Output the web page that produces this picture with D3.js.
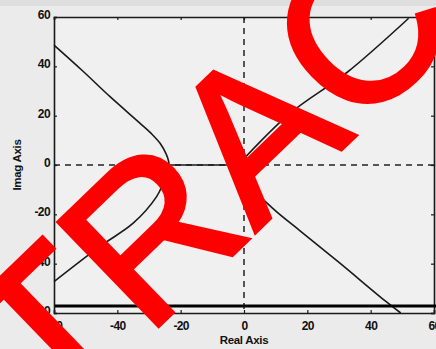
<!DOCTYPE html>
<html>
<head>
<meta charset="utf-8">
<script src="https://cdn.jsdelivr.net/npm/d3@7"></script>
<style>
  html, body { margin: 0; padding: 0; background: #ebebeb; }
  svg { display: block; }
  text { font-family: "Liberation Sans", Arial, sans-serif; }
</style>
</head>
<body>
<svg id="chart" width="436" height="349"></svg>
<script>
// Axis ticks
const xTicks = [-60, -40, -20, 0, 20, 40, 60];
const yTicks = [-60, -40, -20, 0, 20, 40, 60];

// Root-locus branches, [real, imag]
const leftBranch = [
  [-60, 48.6], [-51, 38.2], [-42.3, 27.7], [-32.8, 16.9], [-29.3, 12.8], [-26.5, 8.8],
  [-24.6, 4.5], [-23.8, 1.5], [-23.7, 0], [-24, -2.5], [-25.4, -7], [-27.6, -12.8], [-35, -23.6],
  [-45.5, -33], [-60, -47.3]
];
const upperBranch = [[-1.5, 0.5], [14.5, 20.9], [32.5, 37.5], [52, 59.5]];
const lowerBranch = [[-1.5, 0], [1, -7], [9, -17.5], [18, -27], [30, -39.5], [44.5, -55], [49.5, -60]];
const realSegment = [[-30, 0], [-1.5, 0]];
const poles = [[-30, 0]];

const svg = d3.select("#chart");
const W = 436, H = 349;

// top strip of the page
svg.append("rect").attr("x", 0).attr("y", 0).attr("width", W).attr("height", 6).attr("fill", "#dedede");

const x = d3.scaleLinear().domain([-60, 60]).range([54, 434]);
const y = d3.scaleLinear().domain([-60, 60]).range([313, 17]);

// plot area
svg.append("rect")
  .attr("x", x(-60)).attr("y", y(60))
  .attr("width", x(60) - x(-60)).attr("height", y(-60) - y(60))
  .attr("fill", "#f0f0f0");

// zero lines
const dash = "6,5";
svg.append("line")
  .attr("x1", x(-60)).attr("x2", x(60)).attr("y1", y(0)).attr("y2", y(0))
  .attr("stroke", "#222").attr("stroke-width", 1.5).attr("stroke-dasharray", dash);
svg.append("line")
  .attr("x1", x(0)).attr("x2", x(0)).attr("y1", y(60)).attr("y2", y(-60))
  .attr("stroke", "#222").attr("stroke-width", 1.5).attr("stroke-dasharray", dash);

// frame axes with inward ticks; plain hyphen for negatives
const fmt = d => String(d);
const gB = svg.append("g").attr("transform", `translate(0,${y(-60)})`)
  .call(d3.axisBottom(x).tickValues(xTicks).tickSize(-3).tickPadding(8).tickFormat(fmt));
const gL = svg.append("g").attr("transform", `translate(${x(-60)},0)`)
  .call(d3.axisLeft(y).tickValues(yTicks).tickSize(-3).tickPadding(4).tickFormat(fmt));
const gT = svg.append("g").attr("transform", `translate(0,${y(60)})`)
  .call(d3.axisTop(x).tickValues(xTicks).tickSize(-3).tickFormat(""));
const gR = svg.append("g").attr("transform", `translate(${x(60)},0)`)
  .call(d3.axisRight(y).tickValues(yTicks).tickSize(-3).tickFormat(""));

[gB, gL, gT, gR].forEach(g => {
  g.select(".domain").attr("stroke", "#1a1a1a").attr("stroke-width", 1.6);
  g.selectAll(".tick line").attr("stroke", "#1a1a1a").attr("stroke-width", 1.2);
  g.selectAll("text")
    .attr("fill", "#111")
    .style("font-family", "'Liberation Sans', Arial, sans-serif")
    .style("font-size", "12px")
    .style("font-weight", "bold")
    .style("letter-spacing", "-0.6px");
});
gL.selectAll("text").attr("dy", "0.12em");

// axis titles
svg.append("text").attr("x", x(0)).attr("y", 344)
  .attr("text-anchor", "middle").attr("font-size", 11.5).attr("font-weight", "bold")
  .attr("fill", "#111").attr("letter-spacing", "-0.3").text("Real Axis");
svg.append("text").attr("transform", `translate(21,${y(0)}) rotate(-90)`)
  .attr("text-anchor", "middle").attr("font-size", 11.5).attr("font-weight", "bold")
  .attr("fill", "#111").attr("letter-spacing", "-0.3").text("Imag Axis");

// locus curves
const lineSmooth = d3.line().x(d => x(d[0])).y(d => y(d[1])).curve(d3.curveCatmullRom.alpha(0.5));
const lineStraight = d3.line().x(d => x(d[0])).y(d => y(d[1]));
const locus = svg.append("g").attr("fill", "none").attr("stroke", "#1a1a1a").attr("stroke-width", 1.6);
locus.append("path").attr("d", lineSmooth(leftBranch));
locus.append("path").attr("d", lineSmooth(upperBranch));
locus.append("path").attr("d", lineSmooth(lowerBranch));
locus.append("path").attr("d", lineStraight(realSegment));

// pole markers
svg.selectAll(".pole").data(poles).join("path")
  .attr("class", "pole")
  .attr("transform", d => `translate(${x(d[0])},${y(d[1])})`)
  .attr("d", "M-3,-3L3,3M-3,3L3,-3")
  .attr("stroke", "#111").attr("stroke-width", 1.4);

// heavy rule across the lower part
svg.append("line").attr("x1", 55).attr("x2", W).attr("y1", 306).attr("y2", 306)
  .attr("stroke", "#000").attr("stroke-width", 3.2);

// large red lettering
svg.append("text")
  .attr("transform", "translate(54,427) rotate(-44)")
  .attr("font-size", 210)
  .attr("fill", "#ff0000")
  .attr("stroke", "#ff0000")
  .attr("stroke-width", 4)
  .attr("stroke-linejoin", "miter")
  .text("TRAC");
</script>
</body>
</html>
